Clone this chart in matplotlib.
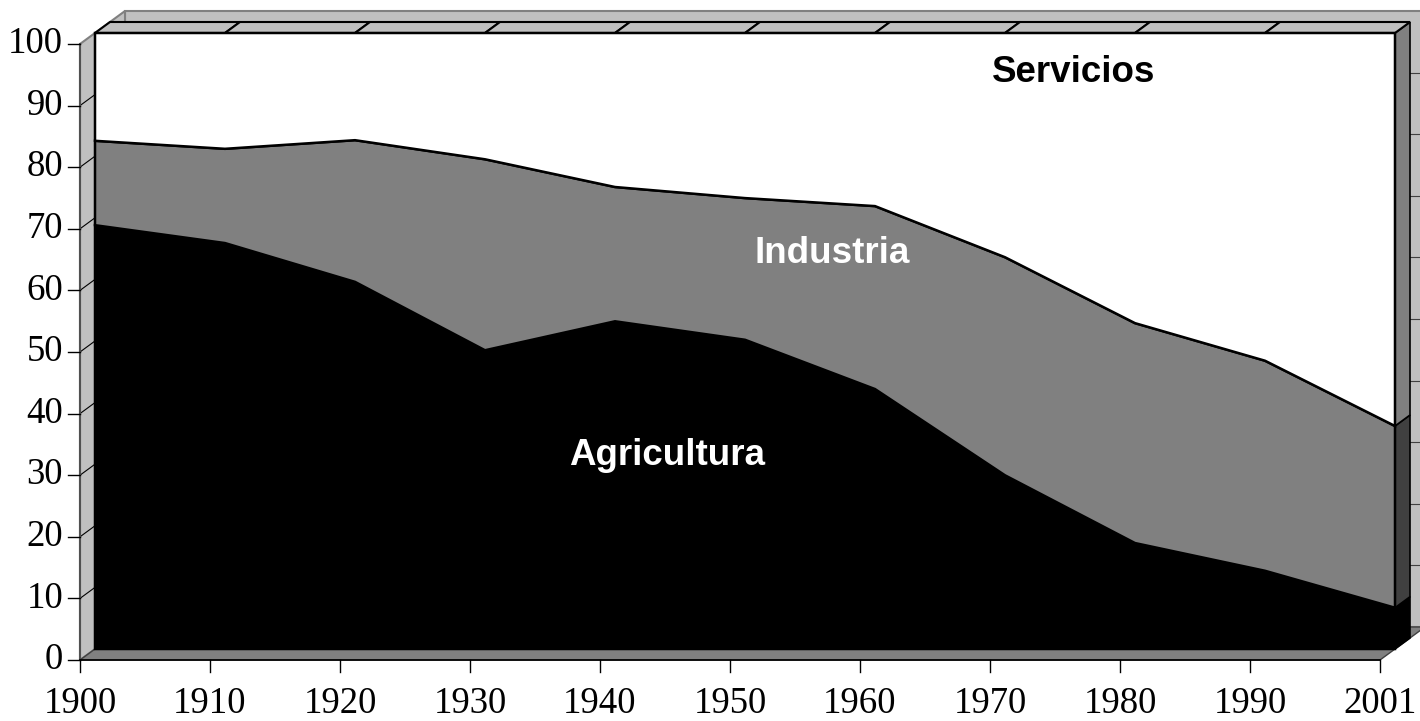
import numpy as np
import matplotlib.pyplot as plt
from matplotlib.patches import Polygon

# data (percent of active population)
years = ["1900", "1910", "1920", "1930", "1940", "1950", "1960", "1970", "1980", "1990", "2001"]
agricultura = [68.8, 65.9, 59.6, 48.5, 53.2, 50.2, 42.2, 28.2, 17.2, 12.7, 6.7]
industria = [13.7, 15.3, 23.0, 31.0, 21.8, 23.0, 29.7, 35.4, 35.7, 34.1, 29.5]
servicios = [17.5, 18.8, 17.4, 20.5, 25.0, 26.8, 28.1, 36.4, 47.1, 53.2, 63.8]
y_ticks = list(range(0, 101, 10))

# pseudo 3d depth step (one step = 15 px right, 11 px up)
DX = 15 / 130
DY = 11 / 6.16

fig = plt.figure(figsize=(14.2, 7.21), dpi=100)
ax = fig.add_axes([0, 0, 1, 1])
ax.set_xlim(-80 / 130, 1340 / 130)
ax.set_ylim((660 - 721) / 6.16, 660 / 6.16)
ax.axis("off")

n = len(years)
xs = np.arange(n)
agri = np.array(agricultura)
ind_top = agri + np.array(industria)
serv_top = ind_top + np.array(servicios)
ymax = 100


def P(x, y, d):
    return (x + d * DX, y + d * DY)


def poly(pts, fc, ec="black", lw=1.2, z=1):
    ax.add_patch(Polygon(pts, closed=True, facecolor=fc, edgecolor=ec, linewidth=lw, zorder=z))


xl, xr = xs[0], xs[-1]

# back wall, left wall, floor
poly([P(xl, 0, 3), P(xr, 0, 3), P(xr, ymax, 3), P(xl, ymax, 3)], "#c0c0c0", "#808080", 1.5, 1)
poly([P(xl, 0, 0), P(xl, ymax, 0), P(xl, ymax, 3), P(xl, 0, 3)], "#c0c0c0", "#808080", 1.5, 1)
poly([P(xl, 0, 0), P(xr, 0, 0), P(xr, 0, 3), P(xl, 0, 3)], "#808080", "#404040", 1.0, 1)

# gridlines on walls
for v in y_ticks[1:-1]:
    a, b = P(xl, v, 0), P(xl, v, 3)
    ax.plot([a[0], b[0]], [a[1], b[1]], color="black", lw=0.8, zorder=2)
    c, d = P(xr, v, 3), P(xl, v, 3)
    ax.plot([c[0], d[0]], [c[1], d[1]], color="#404040", lw=0.8, zorder=2)

# right side faces of the slab
bounds = [(np.zeros(n), agri, "black"), (agri, ind_top, "#404040"), (ind_top, serv_top, "#808080")]
for lo, hi, sc in bounds:
    poly([P(xr, lo[-1], 1), P(xr, hi[-1], 1), P(xr, hi[-1], 2), P(xr, lo[-1], 2)], sc, "black", 1.2, 3)

# top faces
for i in range(n - 1):
    poly([P(xs[i], serv_top[i], 1), P(xs[i + 1], serv_top[i + 1], 1),
          P(xs[i + 1], serv_top[i + 1], 2), P(xs[i], serv_top[i], 2)], "#c0c0c0", "black", 1.5, 3)

# front faces
for (lo, hi, sc), fc in zip(bounds, ["black", "#808080", "white"]):
    pts = [P(x, y, 1) for x, y in zip(xs, lo)] + [P(x, y, 1) for x, y in zip(xs[::-1], hi[::-1])]
    poly(pts, fc, "black", 1.8, 4)

# axes lines and ticks
a, b = P(xl, 0, 0), P(xl, ymax, 0)
ax.plot([a[0], b[0]], [a[1], b[1]], color="#505050", lw=1.5, zorder=5)
a, b = P(xl, 0, 0), P(xr, 0, 0)
ax.plot([a[0], b[0]], [a[1], b[1]], color="black", lw=1.2, zorder=5)

tick_x = 12 / 130
tick_y = 12 / 6.16
for v in y_ticks:
    ax.plot([xl - tick_x, xl], [v, v], color="black", lw=1.0, zorder=5)
    ax.text(xl - 17 / 130, v, str(v), ha="right", va="center", fontsize=26.5,
            family="Liberation Serif", zorder=6)
for x, lab in zip(xs, years):
    ax.plot([x, x], [0, -tick_y], color="black", lw=1.0, zorder=5)
    ax.text(x, -44 / 6.16, lab, ha="center", va="center", fontsize=26.5,
            family="Liberation Serif", zorder=6)

# series labels
ax.text(7.646, 95.3, "Servicios", ha="center", va="center", fontsize=26.5,
        fontweight="bold", family="Liberation Sans", color="black", zorder=7)
ax.text(5.785, 66.0, "Industria", ha="center", va="center", fontsize=26.5,
        fontweight="bold", family="Liberation Sans", color="white", zorder=7)
ax.text(4.515, 33.2, "Agricultura", ha="center", va="center", fontsize=26.5,
        fontweight="bold", family="Liberation Sans", color="white", zorder=7)

fig.savefig("out.png", dpi=100)
